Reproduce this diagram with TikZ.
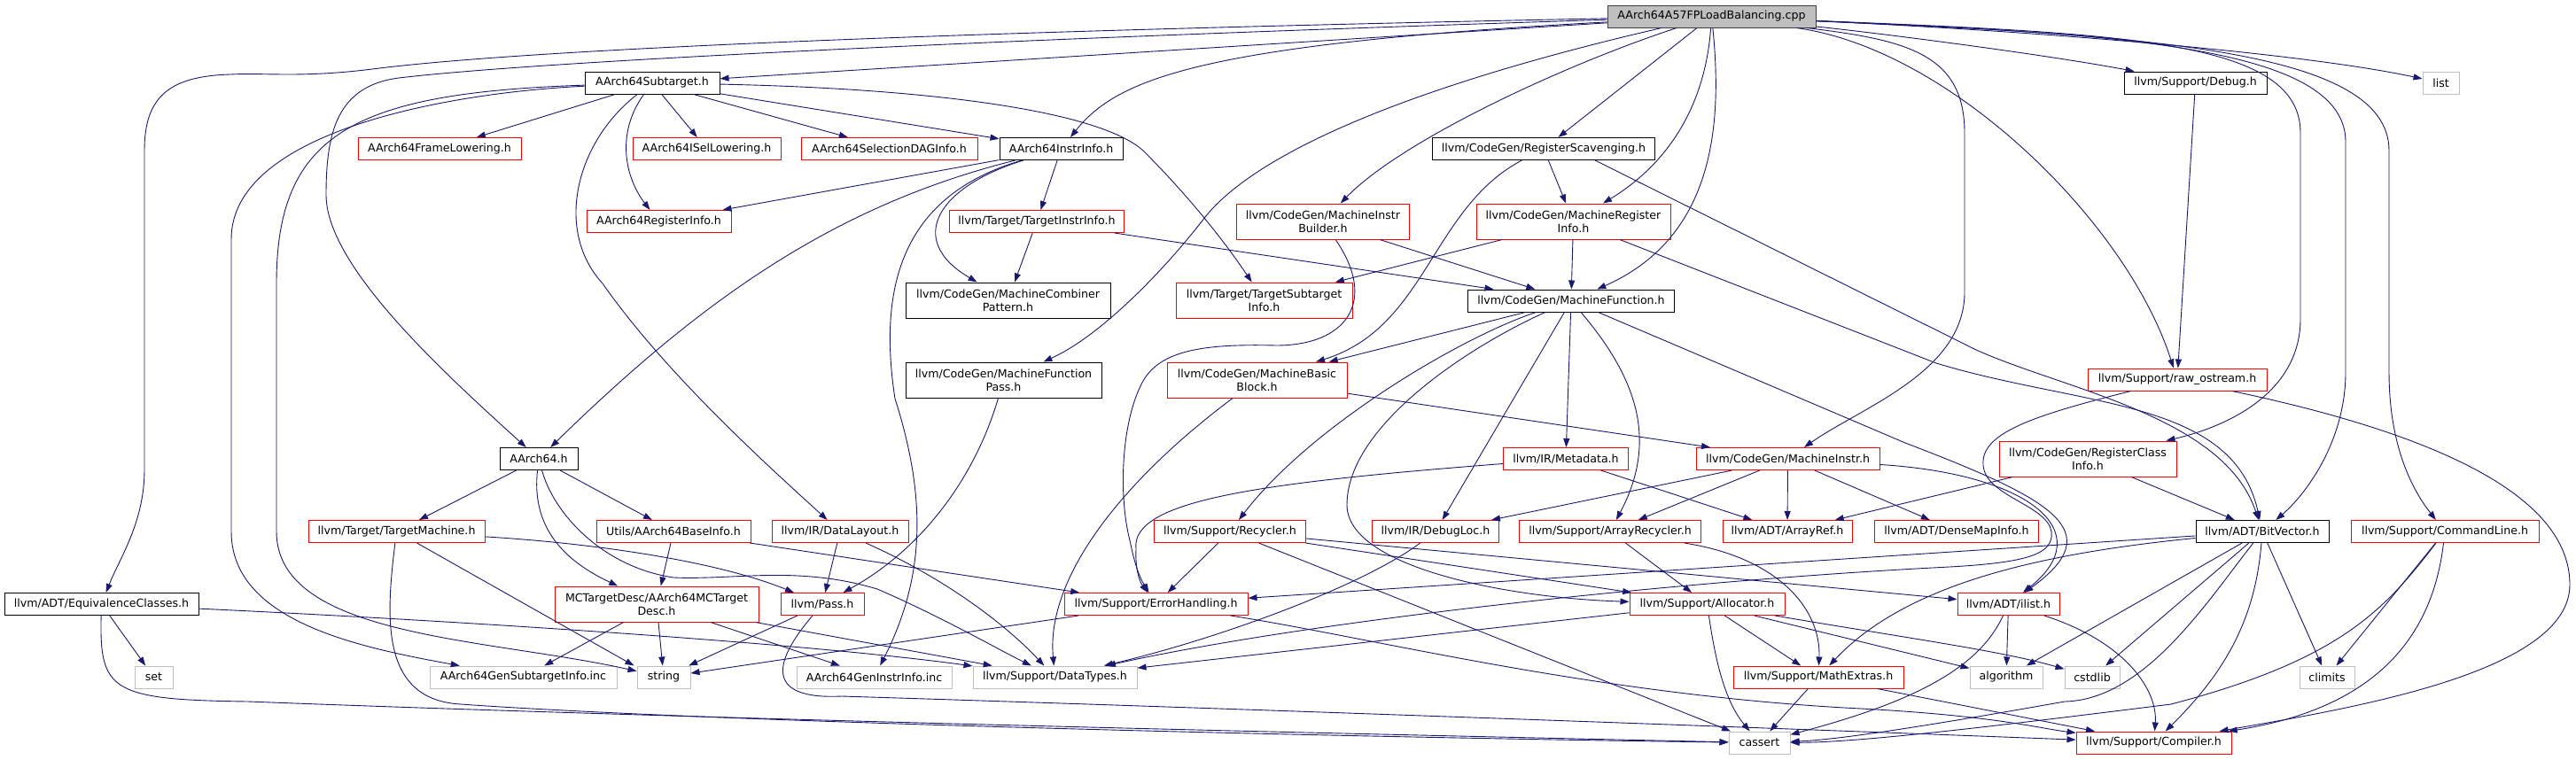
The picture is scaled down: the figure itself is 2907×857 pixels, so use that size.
\documentclass[tikz,border=0pt]{standalone}
\usepackage{fontspec}
\setmainfont{DejaVu Sans}
\usetikzlibrary{arrows.meta}
\definecolor{edgeblue}{RGB}{25,25,112}
\definecolor{leafgray}{RGB}{191,191,191}
\definecolor{cppgray}{RGB}{191,191,191}
\definecolor{cppborder}{RGB}{64,64,64}
\newcommand\nodefont{\fontsize{12.6}{15}\selectfont}
\begin{document}
\begin{tikzpicture}[x=1pt,y=-1pt,
  nb/.style={draw, rectangle, inner sep=0pt, line width=1pt, minimum height=25pt, font=\nodefont, align=center},
  redn/.style={nb, draw=red},
  blkn/.style={nb, draw=black},
  gryn/.style={nb, draw=leafgray},
  two/.style={minimum height=40pt},
  edg/.style={draw=edgeblue, line width=0.9pt, -{Triangle[length=10pt,width=7pt]}}]
\fill[white] (0,0) rectangle (2907,857);
\useasboundingbox (0,0) rectangle (2907,857);
% nodes
\node[nb, draw=cppborder, fill=cppgray, minimum width=235pt] (cpp) at (1931.5,18.5) {AArch64A57FPLoadBalancing.cpp};
\node[blkn, minimum width=152pt] (sub) at (736,93.5) {AArch64Subtarget.h};
\node[blkn, minimum width=161pt] (debug) at (2477.5,93.5) {llvm/Support/Debug.h};
\node[gryn, minimum width=41pt] (list) at (2754.5,93.5) {list};
\node[redn, minimum width=184pt] (frame) at (496,168) {AArch64FrameLowering.h};
\node[redn, minimum width=167pt] (isel) at (797.5,168) {AArch64ISelLowering.h};
\node[redn, minimum width=199pt] (sdag) at (1003.5,168) {AArch64SelectionDAGInfo.h};
\node[blkn, minimum width=139pt] (instr) at (1197.5,168) {AArch64InstrInfo.h};
\node[blkn, minimum width=251pt] (rs) at (1742,168) {llvm/CodeGen/RegisterScavenging.h};
\node[redn, minimum width=163pt] (reginfo) at (743.5,250) {AArch64RegisterInfo.h};
\node[redn, minimum width=197pt] (tii) at (1170,250) {llvm/Target/TargetInstrInfo.h};
\node[redn, two, minimum width=195pt] (mib) at (1493,250) {llvm/CodeGen/MachineInstr\\Builder.h};
\node[redn, two, minimum width=219pt] (mri) at (1775.5,250) {llvm/CodeGen/MachineRegister\\Info.h};
\node[blkn, two, minimum width=231pt] (mcp) at (1137.5,339) {llvm/CodeGen/MachineCombiner\\Pattern.h};
\node[redn, two, minimum width=199pt] (tsi) at (1426.5,339) {llvm/Target/TargetSubtarget\\Info.h};
\node[blkn, minimum width=233pt] (mf) at (1773,339.5) {llvm/CodeGen/MachineFunction.h};
\node[blkn, two, minimum width=221pt] (mfp) at (1132.5,429) {llvm/CodeGen/MachineFunction\\Pass.h};
\node[redn, two, minimum width=203pt] (mbb) at (1418.5,429) {llvm/CodeGen/MachineBasic\\Block.h};
\node[redn, minimum width=202pt] (raw) at (2457,428.5) {llvm/Support/raw\_ostream.h};
\node[blkn, minimum width=88pt] (a64) at (608,518) {AArch64.h};
\node[redn, minimum width=141pt] (meta) at (1767,518) {llvm/IR/Metadata.h};
\node[redn, minimum width=207pt] (mi) at (2017.5,518) {llvm/CodeGen/MachineInstr.h};
\node[redn, two, minimum width=200pt] (rci) at (2356,518) {llvm/CodeGen/RegisterClass\\Info.h};
\node[redn, minimum width=199pt] (tm) at (447.5,600) {llvm/Target/TargetMachine.h};
\node[redn, minimum width=174pt] (base) at (760,600) {Utils/AArch64BaseInfo.h};
\node[redn, minimum width=154pt] (dl) at (948,600) {llvm/IR/DataLayout.h};
\node[redn, minimum width=171pt] (rec) at (1388,600) {llvm/Support/Recycler.h};
\node[redn, minimum width=143pt] (dbg) at (1620,600) {llvm/IR/DebugLoc.h};
\node[redn, minimum width=205pt] (arec) at (1817,600) {llvm/Support/ArrayRecycler.h};
\node[redn, minimum width=146pt] (aref) at (2017,600) {llvm/ADT/ArrayRef.h};
\node[redn, minimum width=185pt] (dmi) at (2208,600) {llvm/ADT/DenseMapInfo.h};
\node[blkn, minimum width=150pt] (bv) at (2553,600) {llvm/ADT/BitVector.h};
\node[redn, minimum width=212pt] (cl) at (2759,600) {llvm/Support/CommandLine.h};
\node[redn, two, minimum width=230pt] (mctd) at (741,682) {MCTargetDesc/AArch64MCTarget\\Desc.h};
\node[blkn, minimum width=219pt] (eqc) at (114.5,682) {llvm/ADT/EquivalenceClasses.h};
\node[redn, minimum width=94pt] (pass) at (928,682) {llvm/Pass.h};
\node[redn, minimum width=207pt] (eh) at (1304.5,682) {llvm/Support/ErrorHandling.h};
\node[redn, minimum width=175pt] (alloc) at (1926.5,682) {llvm/Support/Allocator.h};
\node[redn, minimum width=115pt] (ilist) at (2266.5,682) {llvm/ADT/ilist.h};
\node[gryn, minimum width=43pt] (set) at (173.5,764.5) {set};
\node[gryn, minimum width=211pt] (gsi) at (590.5,764.5) {AArch64GenSubtargetInfo.inc};
\node[gryn, minimum width=60pt] (str) at (749,764.5) {string};
\node[gryn, minimum width=175pt] (gii) at (986.5,764.5) {AArch64GenInstrInfo.inc};
\node[gryn, minimum width=185pt] (dt) at (1190.5,764.5) {llvm/Support/DataTypes.h};
\node[redn, minimum width=192pt] (mx) at (2052,764.5) {llvm/Support/MathExtras.h};
\node[gryn, minimum width=82pt] (algo) at (2264,764.5) {algorithm};
\node[gryn, minimum width=62pt] (cstd) at (2361,764.5) {cstdlib};
\node[gryn, minimum width=62pt] (clim) at (2626,764.5) {climits};
\node[gryn, minimum width=69pt] (cassert) at (1985.5,838.5) {cassert};
\node[redn, minimum width=175pt] (comp) at (2430.5,838.5) {llvm/Support/Compiler.h};
% edges from cpp
\draw[edg] (cpp) -- (sub);
\draw[edg] (cpp) .. controls (1350,50) and (1260,90) .. (instr);
\draw[edg] (cpp) .. controls (1100,45) and (600,70) .. (450,88) .. controls (380,97) and (368,150) .. (368,220) .. controls (368,300) and (500,420) .. (a64);
\draw[edg] (cpp) .. controls (1100,35) and (600,55) .. (420,78) .. controls (340,88) and (300,82) .. (260,84) .. controls (190,86) and (163,110) .. (163,170) -- (163,530) .. controls (163,590) and (135,630) .. (eqc);
\draw[edg] (cpp) .. controls (1600,95) and (1420,170) .. (1360,245) .. controls (1310,310) and (1240,380) .. (mfp);
\draw[edg] (cpp) .. controls (1760,75) and (1580,160) .. (mib);
\draw[edg] (cpp) -- (rs);
\draw[edg] (cpp) .. controls (1925,110) and (1890,180) .. (mri);
\draw[edg] (cpp) .. controls (1945,150) and (1930,270) .. (mf);
\draw[edg] (cpp) .. controls (2100,35) and (2300,60) .. (debug);
\draw[edg] (cpp) .. controls (2300,35) and (2600,60) .. (list);
\draw[edg] (cpp) .. controls (2200,55) and (2400,250) .. (raw);
\draw[edg] (cpp) .. controls (2150,45) and (2217,60) .. (2217,150) -- (2217,330) .. controls (2217,420) and (2100,460) .. (mi);
\draw[edg] (cpp) .. controls (2400,38) and (2596,45) .. (2596,150) -- (2596,360) .. controls (2596,440) and (2520,480) .. (rci);
\draw[edg] (cpp) .. controls (2380,38) and (2647,50) .. (2647,160) -- (2647,420) .. controls (2647,500) and (2600,560) .. (bv);
\draw[edg] (cpp) .. controls (2420,40) and (2696,55) .. (2696,170) -- (2696,420) .. controls (2696,500) and (2720,550) .. (cl);
% AArch64Subtarget.h
\draw[edg] (sub) -- (frame);
\draw[edg] (sub) -- (isel);
\draw[edg] (sub) -- (sdag);
\draw[edg] (sub) -- (instr);
\draw[edg] (sub) .. controls (695,150) and (705,200) .. (reginfo);
\draw[edg] (sub) .. controls (1050,100) and (1240,125) .. (1290,170) .. controls (1340,220) and (1380,270) .. (tsi);
\draw[edg] (sub) .. controls (650,160) and (625,260) .. (680,320) .. controls (750,420) and (860,520) .. (dl);
\draw[edg] (sub) .. controls (500,105) and (261,150) .. (261,270) -- (261,600) .. controls (261,700) and (400,730) .. (gsi);
\draw[edg] (sub) .. controls (400,105) and (312,150) .. (312,320) -- (312,600) .. controls (312,720) and (550,720) .. (str);
% AArch64InstrInfo.h
\draw[edg] (instr) -- (reginfo);
\draw[edg] (instr) .. controls (950,230) and (800,330) .. (a64);
\draw[edg] (instr) .. controls (1020,220) and (990,320) .. (1010,450) .. controls (1045,560) and (1045,650) .. (gii);
\draw[edg] (instr) .. controls (1060,210) and (1020,270) .. (mcp);
\draw[edg] (instr) -- (tii);
% TargetInstrInfo
\draw[edg] (tii) -- (mcp);
\draw[edg] (tii) -- (mf);
% RegisterScavenging
\draw[edg] (rs) -- (mri);
\draw[edg] (rs) .. controls (1615,235) and (1610,370) .. (mbb);
\draw[edg] ([xshift=-68pt]rs.south east) -- (2230,395) .. controls (2330,440) and (2510,470) .. (bv);
% MachineRegisterInfo
\draw[edg] (mri) -- (tsi);
\draw[edg] (mri) -- (mf);
\draw[edg] (mri) -- (2185,410) .. controls (2350,460) and (2520,450) .. (bv);
% MachineInstrBuilder
\draw[edg] (mib) -- (mf);
\draw[edg] (mib) .. controls (1555,340) and (1520,390) .. (1440,390) .. controls (1360,388) and (1310,395) .. (1290,430) .. controls (1265,475) and (1262,560) .. (1275,610) .. controls (1280,635) and (1285,650) .. (eh);
% MachineFunction
\draw[edg] (mf) -- (mbb);
\draw[edg] (mf) .. controls (1650,380) and (1480,480) .. (rec);
\draw[edg] (mf) .. controls (1660,390) and (1520,480) .. (1520,570) .. controls (1520,640) and (1700,675) .. (alloc);
\draw[edg] (mf) -- (dbg);
\draw[edg] (mf) -- (meta);
\draw[edg] (mf) .. controls (1850,430) and (1870,500) .. (arec);
\draw[edg] (mf) -- (2150,500) .. controls (2320,565) and (2380,600) .. (ilist);
% MachineBasicBlock
\draw[edg] (mbb) -- (mi);
\draw[edg] (mbb) .. controls (1270,540) and (1180,650) .. (dt);
% MachineFunctionPass
\draw[edg] (mfp) .. controls (1100,540) and (1040,620) .. (pass);
% Debug / raw_ostream
\draw[edg] (debug) -- (raw);
\draw[edg] (raw) .. controls (2750,490) and (2900,560) .. (2900,660) .. controls (2900,760) and (2650,800) .. (comp);
\draw[edg] (raw) .. controls (2290,470) and (2235,490) .. (2238,525) .. controls (2240,560) and (2310,570) .. (2315,600) .. controls (2318,625) and (2290,635) .. (2200,640) .. controls (1900,655) and (1480,700) .. (dt);
% AArch64.h
\draw[edg] (a64) -- (tm);
\draw[edg] (a64) -- (base);
\draw[edg] (a64) .. controls (600,590) and (630,630) .. (mctd);
\draw[edg] (a64) .. controls (625,580) and (680,640) .. (760,652) .. controls (830,655) and (900,638) .. (990,665) .. controls (1060,695) and (1130,735) .. (dt);
% TargetMachine
\draw[edg] (tm) .. controls (650,612) and (800,630) .. (pass);
\draw[edg] (tm) -- ([xshift=-3pt]str.north west);
\draw[edg] (tm) .. controls (435,700) and (430,790) .. (520,795) .. controls (800,815) and (1500,832) .. (cassert);
% EquivalenceClasses
\draw[edg] (eqc) -- (set);
\draw[edg] (eqc) .. controls (112,780) and (125,790) .. (280,792) .. controls (800,812) and (1500,828) .. (cassert);
\draw[edg] (eqc) .. controls (500,700) and (900,725) .. (dt);
% BaseInfo
\draw[edg] (base) -- (mctd);
\draw[edg] (base) -- (eh);
% DataLayout
\draw[edg] (dl) -- (pass);
\draw[edg] (dl) .. controls (1060,650) and (1130,700) .. (dt);
% MCTargetDesc
\draw[edg] (mctd) -- (gsi);
\draw[edg] (mctd) -- (str);
\draw[edg] (mctd) -- (gii);
\draw[edg] (mctd) -- (dt);
% Pass
\draw[edg] (pass) -- (str);
\draw[edg] (pass) .. controls (870,750) and (865,790) .. (950,786) .. controls (1400,800) and (2000,822) .. (comp);
% ErrorHandling
\draw[edg] (eh) -- (str);
\draw[edg] (eh) .. controls (1550,720) and (1800,785) .. (2100,800) .. controls (2250,808) and (2300,822) .. (comp);
% Recycler
\draw[edg] (rec) -- (eh);
\draw[edg] (rec) -- (alloc);
\draw[edg] (rec) -- (ilist);
\draw[edg] (rec) -- (cassert);
% DebugLoc
\draw[edg] (dbg) .. controls (1540,660) and (1380,720) .. (dt);
% ArrayRecycler
\draw[edg] (arec) -- (alloc);
\draw[edg] (arec) .. controls (2010,630) and (2055,690) .. (mx);
% MachineInstr
\draw[edg] (mi) -- (dbg);
\draw[edg] (mi) -- (arec);
\draw[edg] (mi) -- (aref);
\draw[edg] (mi) -- (dmi);
\draw[edg] (mi) .. controls (2290,535) and (2370,600) .. (ilist);
% Metadata
\draw[edg] (meta) .. controls (1420,545) and (1275,565) .. (1282,620) .. controls (1281,640) and (1285,655) .. (eh);
\draw[edg] (meta) -- (aref);
% RegisterClassInfo
\draw[edg] (rci) -- (bv);
\draw[edg] (rci) -- (aref);
% BitVector
\draw[edg] (bv) -- (eh);
\draw[edg] (bv) .. controls (2300,625) and (2150,660) .. (mx);
\draw[edg] (bv) -- (algo);
\draw[edg] (bv) -- (cstd);
\draw[edg] (bv) .. controls (2490,680) and (2420,790) .. (2330,792) .. controls (2200,815) and (2080,835) .. (cassert);
\draw[edg] (bv) .. controls (2545,700) and (2510,760) .. (comp);
\draw[edg] (bv) -- (clim);
% CommandLine
\draw[edg] (cl) -- (clim);
\draw[edg] (cl) .. controls (2690,690) and (2640,745) .. (2450,795) .. controls (2250,820) and (2100,838) .. (cassert);
\draw[edg] (cl) .. controls (2745,720) and (2680,800) .. (comp);
% ilist
\draw[edg] (ilist) -- (algo);
\draw[edg] (ilist) .. controls (2235,750) and (2170,790) .. (cassert);
\draw[edg] (ilist) .. controls (2400,725) and (2435,780) .. (comp);
% Allocator
\draw[edg] (alloc) -- (dt);
\draw[edg] (alloc) -- (mx);
\draw[edg] (alloc) .. controls (1935,740) and (1945,790) .. (cassert);
\draw[edg] (alloc) -- (algo);
\draw[edg] (alloc) .. controls (2150,720) and (2260,735) .. (cstd);
% MathExtras
\draw[edg] (mx) -- (cassert);
\draw[edg] (mx) -- (comp);
\end{tikzpicture}
\end{document}
